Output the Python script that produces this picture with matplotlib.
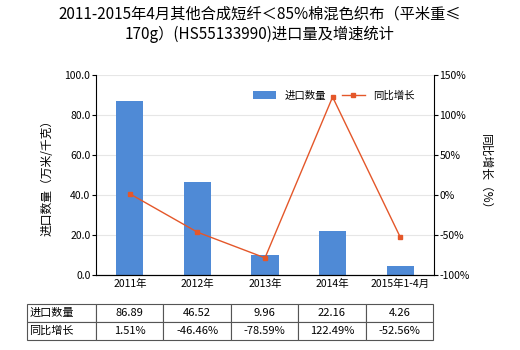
import matplotlib
matplotlib.use('Agg')
import matplotlib.pyplot as plt
from matplotlib.ticker import FuncFormatter

plt.rcParams['font.family'] = ['Noto Sans CJK SC', 'DejaVu Sans']
plt.rcParams['axes.unicode_minus'] = False

years = ['2011年', '2012年', '2013年', '2014年', '2015年1-4月']
qty = [86.89, 46.52, 9.96, 22.16, 4.26]
growth = [1.51, -46.46, -78.59, 122.49, -52.56]
qty_labels = ['86.89', '46.52', '9.96', '22.16', '4.26']
growth_labels = ['1.51%', '-46.46%', '-78.59%', '122.49%', '-52.56%']
row_names = ['进口数量', '同比增长']

bar_color = '#4f8ad6'
line_color = '#e4572a'

fig = plt.figure(figsize=(5.2, 3.5), dpi=100)
ax = fig.add_axes([96/520, 75/350, 338/520, 200/350])
x = range(len(years))
ax.bar(x, qty, width=0.4, color=bar_color, label='进口数量', zorder=2)
ax.set_xlim(-0.5, 4.5)
ax.set_ylim(0, 100)
ax.set_yticks([0, 20, 40, 60, 80, 100])
ax.yaxis.set_major_formatter(FuncFormatter(lambda v, p: '%.1f' % v))
ax.grid(axis='y', color='#e6e6e6', linewidth=0.8, zorder=0)
ax.set_xticks(list(x))
ax.set_xticklabels(years, fontsize=7.5)
ax.tick_params(axis='y', labelsize=7.5, length=3, pad=1)
ax.tick_params(axis='x', length=0, pad=3)
for s in ['top', 'right']:
    ax.spines[s].set_visible(False)
ax.set_ylabel('进口数量（万米/千克）', fontsize=8.5, labelpad=8)

ax2 = ax.twinx()
ax2.plot(list(x), growth, color=line_color, marker='s', markersize=3, linewidth=1, label='同比增长', zorder=3)
ax2.set_ylim(-100, 150)
ax2.set_yticks([-100, -50, 0, 50, 100, 150])
ax2.yaxis.set_major_formatter(FuncFormatter(lambda v, p: '%d%%' % v))
ax2.tick_params(axis='y', labelsize=7.5, length=3, pad=1)
for s in ['top', 'left']:
    ax2.spines[s].set_visible(False)
ax2.set_ylabel('同比增长（%）', fontsize=8.5, rotation=-90, labelpad=16)

h1, l1 = ax.get_legend_handles_labels()
h2, l2 = ax2.get_legend_handles_labels()
ax2.legend(h1 + h2, l1 + l2, loc='upper right', bbox_to_anchor=(0.97, 0.97), ncol=2,
           frameon=False, fontsize=7.5, handlelength=2.2, columnspacing=1.5)

fig.text(0.5, 0.985, '2011-2015年4月其他合成短纤＜85%棉混色织布（平米重≤\n170g）(HS55133990)进口量及增速统计',
         ha='center', va='top', fontsize=11, linespacing=1.3)

# data table under the chart
tab = fig.add_axes([27/520, 10/350, 406/520, 36/350])
tab.axis('off')
cells = [[row_names[0]] + qty_labels, [row_names[1]] + growth_labels]
t = tab.table(cellText=cells, cellLoc='center', bbox=[0, 0, 1, 1])
t.auto_set_font_size(False)
col_w = [69/406] + [67.4/406] * 5
for (r, c), cell in t.get_celld().items():
    cell.set_width(col_w[c])
    cell.set_fontsize(8)
    cell.set_edgecolor('#555555')
    cell.set_linewidth(0.8)
    if c == 0:
        cell.get_text().set_ha('left')
        cell.PAD = 0.03

fig.savefig('out.png', dpi=100)
